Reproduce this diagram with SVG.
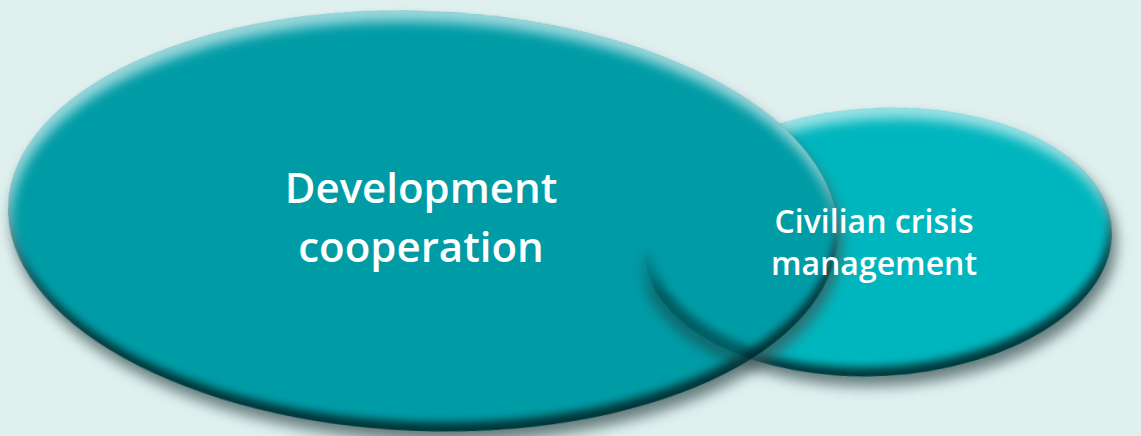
<svg xmlns="http://www.w3.org/2000/svg" width="1141" height="436" viewBox="0 0 1141 436">
  <defs>
    <style>
      .lbl { font-family: "Open Sans", "Noto Sans", "Liberation Sans", sans-serif; fill: #ffffff; text-anchor: middle; font-weight: 600; }
      .big { font-size: 42px; letter-spacing: 0px; }
      .small { font-size: 32px; letter-spacing: 0px; }
    </style>
    <filter id="bevel" x="-6%" y="-10%" width="114%" height="124%" color-interpolation-filters="sRGB">
      <feGaussianBlur in="SourceAlpha" stdDeviation="7" result="blur"/>
      <feOffset in="blur" dx="4" dy="10" result="dsoff"/>
      <feFlood flood-color="#3d5556" flood-opacity="0.75"/>
      <feComposite in2="dsoff" operator="in" result="drop"/>
      <feOffset in="SourceAlpha" dx="-2" dy="-9" result="up"/>
      <feGaussianBlur in="up" stdDeviation="4" result="upb"/>
      <feComposite in="SourceAlpha" in2="upb" operator="out" result="rimD"/>
      <feFlood flood-color="#00292b" flood-opacity="0.9"/>
      <feComposite in2="rimD" operator="in" result="dark"/>
      <feOffset in="SourceAlpha" dx="3" dy="11" result="dn"/>
      <feGaussianBlur in="dn" stdDeviation="6" result="dnb"/>
      <feComposite in="SourceAlpha" in2="dnb" operator="out" result="rimL"/>
      <feFlood flood-color="#ffffff" flood-opacity="0.6"/>
      <feComposite in2="rimL" operator="in" result="light"/>
      <feMerge>
        <feMergeNode in="drop"/>
        <feMergeNode in="SourceGraphic"/>
        <feMergeNode in="dark"/>
        <feMergeNode in="light"/>
      </feMerge>
    </filter>
    <filter id="rimOnly" x="-6%" y="-10%" width="114%" height="124%" color-interpolation-filters="sRGB">
      <feGaussianBlur in="SourceAlpha" stdDeviation="6" result="blur"/>
      <feOffset in="blur" dx="-4" dy="10" result="dsoff"/>
      <feComposite in="dsoff" in2="SourceAlpha" operator="out" result="dsout"/>
      <feFlood flood-color="#1f3a3b" flood-opacity="0.8"/>
      <feComposite in2="dsout" operator="in" result="drop"/>
      <feOffset in="SourceAlpha" dx="7" dy="-9" result="up"/>
      <feGaussianBlur in="up" stdDeviation="4" result="upb"/>
      <feComposite in="SourceAlpha" in2="upb" operator="out" result="rimD"/>
      <feFlood flood-color="#00292b" flood-opacity="0.9"/>
      <feComposite in2="rimD" operator="in" result="dark"/>
      <feMerge>
        <feMergeNode in="drop"/>
        <feMergeNode in="dark"/>
      </feMerge>
    </filter>
    <clipPath id="bigClip">
      <ellipse cx="423" cy="221" rx="415" ry="210" transform="rotate(2.2 423 221)"/>
    </clipPath>
    <linearGradient id="fadeGrad" gradientUnits="userSpaceOnUse" x1="0" y1="245" x2="0" y2="295">
      <stop offset="0" stop-color="#fff" stop-opacity="0"/>
      <stop offset="1" stop-color="#fff" stop-opacity="1"/>
    </linearGradient>
    <mask id="lowerMask" maskUnits="userSpaceOnUse" x="0" y="0" width="1141" height="436">
      <rect x="0" y="0" width="1141" height="436" fill="url(#fadeGrad)"/>
    </mask>
  </defs>

  <rect x="0" y="0" width="1141" height="436" fill="#dff0ef"/>

  <g id="node-civilian-crisis-management">
    <ellipse cx="878" cy="242" rx="234" ry="134" transform="rotate(-3 878 242)" fill="#00b6be" filter="url(#bevel)"/>
  </g>

  <g id="node-development-cooperation">
    <ellipse cx="423" cy="221" rx="415" ry="210" transform="rotate(2.2 423 221)" fill="#009ca6" filter="url(#bevel)"/>
    <g clip-path="url(#bigClip)">
      <g mask="url(#lowerMask)" opacity="0.6">
        <ellipse cx="878" cy="242" rx="234" ry="134" transform="rotate(-3 878 242)" fill="#00b6be" filter="url(#rimOnly)"/>
      </g>
    </g>
    <text class="lbl big" x="421" y="203">Development</text>
    <text class="lbl big" x="421" y="262">cooperation</text>
  </g>

  <g id="node-civilian-crisis-management-label">
    <text class="lbl small" x="874" y="233">Civilian crisis</text>
    <text class="lbl small" x="874" y="275">management</text>
  </g>

  <g id="connectors"/>
</svg>
